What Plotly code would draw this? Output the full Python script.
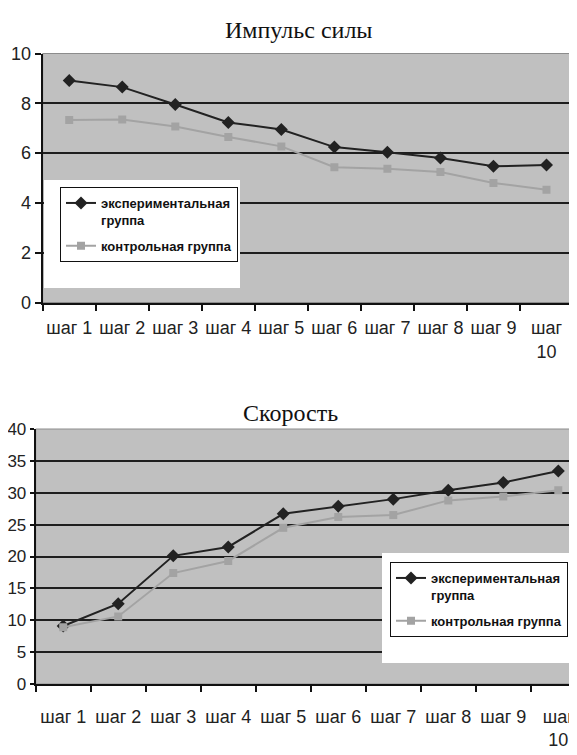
import plotly.graph_objects as go

categories = ["шаг 1", "шаг 2", "шаг 3", "шаг 4", "шаг 5", "шаг 6", "шаг 7", "шаг 8", "шаг 9", "шаг 10"]
tick_labels = ["шаг 1", "шаг 2", "шаг 3", "шаг 4", "шаг 5", "шаг 6", "шаг 7", "шаг 8", "шаг 9", "шаг<br>10"]

impulse_exp = [8.92, 8.65, 7.95, 7.23, 6.95, 6.24, 6.03, 5.80, 5.47, 5.52]
impulse_ctrl = [7.33, 7.35, 7.07, 6.65, 6.27, 5.43, 5.37, 5.24, 4.80, 4.53]

speed_exp = [9.1, 12.6, 20.1, 21.5, 26.7, 27.9, 29.0, 30.4, 31.6, 33.4]
speed_ctrl = [8.9, 10.6, 17.4, 19.3, 24.5, 26.2, 26.5, 28.8, 29.4, 30.4]

name_exp = "экспериментальная<br>группа"
name_ctrl = "контрольная группа"

# page body has an 8px default margin; figure is sized to fit the window
OFF = 8
W, H = 577 - OFF, 755 - OFF
def px(x):
    return (x - OFF) / W
def py(y):
    return 1 - (y - OFF) / H

EXP_COLOR = "#222222"
CTRL_COLOR = "#a3a3a3"
FAM = "Liberation Sans, Arial, sans-serif"
TICK_FONT = dict(family=FAM, size=18, color="#222222")
LEG_FONT = dict(family=FAM, size=13, color="#111111", weight="bold")

fig = go.Figure()

# top chart
fig.add_trace(go.Scatter(x=categories, y=impulse_exp, name=name_exp, mode="lines+markers",
                         line=dict(color=EXP_COLOR, width=2),
                         marker=dict(symbol="diamond", size=10, color=EXP_COLOR),
                         xaxis="x", yaxis="y", legend="legend", legendgroup="e1"))
fig.add_trace(go.Scatter(x=categories, y=impulse_ctrl, name=name_ctrl, mode="lines+markers",
                         line=dict(color=CTRL_COLOR, width=2),
                         marker=dict(symbol="square", size=8, color=CTRL_COLOR),
                         xaxis="x", yaxis="y", legend="legend", legendgroup="c1"))
# bottom chart
fig.add_trace(go.Scatter(x=categories, y=speed_exp, name=name_exp, mode="lines+markers",
                         line=dict(color=EXP_COLOR, width=2),
                         marker=dict(symbol="diamond", size=10, color=EXP_COLOR),
                         xaxis="x2", yaxis="y2", legend="legend2", legendgroup="e2"))
fig.add_trace(go.Scatter(x=categories, y=speed_ctrl, name=name_ctrl, mode="lines+markers",
                         line=dict(color=CTRL_COLOR, width=2),
                         marker=dict(symbol="square", size=8, color=CTRL_COLOR),
                         xaxis="x2", yaxis="y2", legend="legend2", legendgroup="c2"))

xcommon = dict(type="category", categoryorder="array", categoryarray=categories,
               tickmode="array", tickvals=categories, ticktext=tick_labels,
               tickson="boundaries", ticks="outside", ticklen=6, tickwidth=2, tickcolor="#111",
               showline=True, linecolor="#111", linewidth=2, showgrid=False, zeroline=False,
               tickfont=TICK_FONT, tickangle=0, automargin=False, fixedrange=True)
ycommon = dict(ticks="outside", tickwidth=2, tickcolor="#111",
               showline=True, linecolor="#111", linewidth=2,
               showgrid=True, gridcolor="#1e1e1e", gridwidth=2, zeroline=False,
               automargin=False, fixedrange=True)

legend_common = dict(xanchor="left", yanchor="top", bgcolor="white", bordercolor="#111",
                     borderwidth=1, font=LEG_FONT, itemwidth=30, valign="top",
                     tracegroupgap=6)

fig.update_layout(
    width=W, height=H,
    margin=dict(l=0, r=0, t=0, b=0, pad=0, autoexpand=False),
    paper_bgcolor="white", plot_bgcolor="#c0c0c0",
    xaxis=dict(domain=[px(42.7), px(573)], anchor="y", range=[-0.5, 9.5],
               ticklabelstandoff=8, **xcommon),
    yaxis=dict(domain=[py(302.5), py(53.5)], anchor="x", range=[0, 10], dtick=2,
               ticklen=6, tickfont=TICK_FONT, **ycommon),
    xaxis2=dict(domain=[px(35.7), 1.0], anchor="y2", range=[-0.5, 9.34],
                ticklabelstandoff=15, **xcommon),
    yaxis2=dict(domain=[py(684), py(429)], anchor="x2", range=[0, 40], dtick=5,
                ticklen=4, tickfont=dict(family=FAM, size=17, color="#222222"), **ycommon),
    legend=dict(x=px(60), y=py(187), **legend_common),
    legend2=dict(x=px(390), y=py(562), **legend_common),
    showlegend=True,
    annotations=[
        dict(text="Импульс силы", x=px(298), y=py(30), xref="paper", yref="paper",
             xanchor="center", yanchor="middle", showarrow=False,
             font=dict(family="Liberation Serif, Times New Roman, serif", size=24, color="#111")),
        dict(text="Скорость", x=px(290), y=py(413), xref="paper", yref="paper",
             xanchor="center", yanchor="middle", showarrow=False,
             font=dict(family="Liberation Serif, Times New Roman, serif", size=24, color="#111")),
    ],
    shapes=[
        dict(type="rect", xref="x domain", yref="y domain", x0=0, x1=1, y0=0, y1=1,
             line=dict(color="#8c8c8c", width=1), layer="below"),
        dict(type="rect", xref="x2 domain", yref="y2 domain", x0=0, x1=1, y0=0, y1=1,
             line=dict(color="#8c8c8c", width=1), layer="below"),
        dict(type="rect", xref="paper", yref="paper", x0=px(44), x1=px(240), y0=py(288), y1=py(180),
             fillcolor="white", line=dict(width=0), layer="above"),
        dict(type="rect", xref="paper", yref="paper", x0=px(382), x1=1.0, y0=py(663), y1=py(553),
             fillcolor="white", line=dict(width=0), layer="above"),
    ],
)

fig.write_html("out.html")
